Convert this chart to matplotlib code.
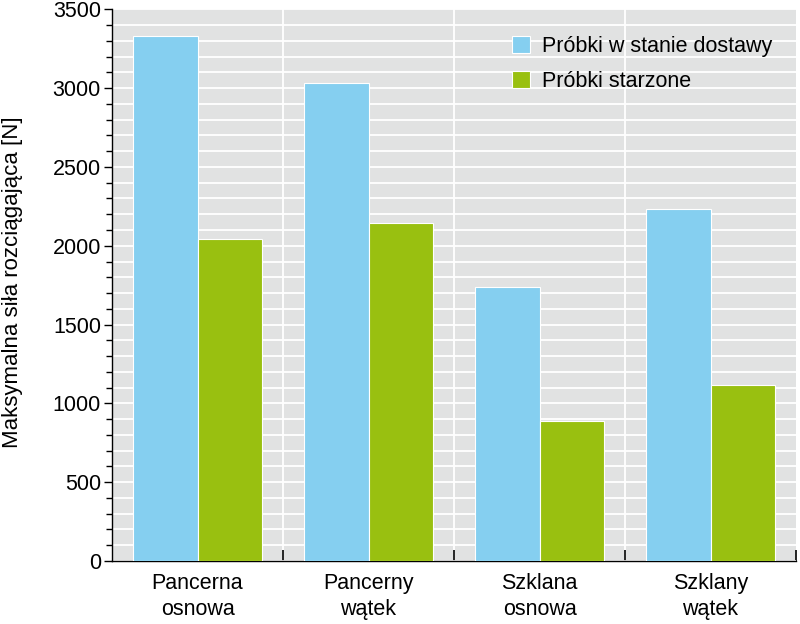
import matplotlib.pyplot as plt
import numpy as np
from matplotlib.ticker import MultipleLocator, FixedLocator

categories = ['Pancerna\nosnowa', 'Pancerny\nwątek', 'Szklana\nosnowa', 'Szklany\nwątek']
delivered = [3330, 3030, 1740, 2235]
aged = [2045, 2145, 885, 1115]
series_names = ['Próbki w stanie dostawy', 'Próbki starzone']

plt.rcParams['font.family'] = ['Liberation Sans', 'DejaVu Sans']

fig = plt.figure(figsize=(8, 6.24), dpi=100)
ax = fig.add_axes([0.14, 0.101, 0.855, 0.884])
ax.set_facecolor('#e1e2e2')

x = np.arange(len(categories))
w = 0.38
ax.bar(x - w / 2, delivered, w, color='#85cff0', edgecolor='white', linewidth=0.8,
       label=series_names[0], zorder=3)
ax.bar(x + w / 2, aged, w, color='#99c010', edgecolor='white', linewidth=0.8,
       label=series_names[1], zorder=3)

ax.set_xlim(-0.5, len(categories) - 0.5)
ax.set_ylim(0, 3500)

# y axis ticks
ax.yaxis.set_major_locator(MultipleLocator(500))
ax.yaxis.set_minor_locator(MultipleLocator(100))
ax.tick_params(axis='y', which='major', direction='out', length=6, width=1,
               labelsize=15.5, pad=2)
ax.tick_params(axis='y', which='minor', direction='out', length=4, width=1)

# x axis: labels at centres, ticks at category boundaries
ax.set_xticks(x)
ax.set_xticklabels(categories, fontsize=15.5, linespacing=1.3)
ax.tick_params(axis='x', which='major', length=0, pad=9)
bounds = np.arange(0.5, len(categories), 1.0)
ax.xaxis.set_minor_locator(FixedLocator(bounds.tolist()))
ax.tick_params(axis='x', which='minor', direction='in', length=8, width=1.2)

# white grid (vertical separators kept under the ticks)
ax.yaxis.grid(True, which='both', color='white', linewidth=1.3)
for b in bounds[:-1]:
    ax.axvline(b, color='white', linewidth=1.3, zorder=0.3)
ax.set_axisbelow(True)

for s in ['top', 'right']:
    ax.spines[s].set_visible(False)
ax.spines['left'].set_linewidth(1)
ax.spines['bottom'].set_linewidth(1)

ax.set_ylabel('Maksymalna siła rozciągająca [N]', fontsize=16)
ax.yaxis.set_label_coords(-0.13, 0.505)

ax.legend(loc='upper right', frameon=False, fontsize=15.5, handlelength=0.85,
          handleheight=0.85, handletextpad=0.55, labelspacing=0.65,
          borderaxespad=0, bbox_to_anchor=(0.978, 0.967))

fig.savefig('out.png', dpi=100)
